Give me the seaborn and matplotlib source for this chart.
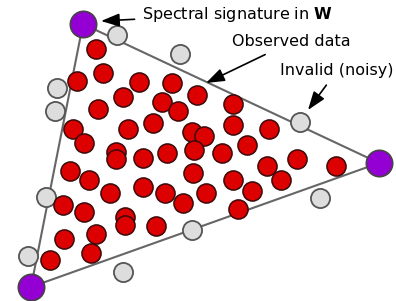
import numpy as np
import pandas as pd
import matplotlib
matplotlib.use("Agg")
import matplotlib.pyplot as plt
import seaborn as sns

# --- data (picture coordinates, y grows downwards) ---
vertex_x = [83, 379, 31]
vertex_y = [24, 163, 287]

invalid_x = [117, 180, 57, 55, 300, 320, 46, 28, 123, 192]
invalid_y = [35, 54, 88, 111, 122, 198, 197, 256, 272, 230]

observed_x = [96, 103, 77, 139, 172, 123, 197, 98, 162, 178,
              233, 73, 128, 153, 192, 204, 233, 269, 84, 116,
              116, 143, 167, 194, 222, 247, 297, 336, 267, 193,
              70, 89, 143, 110, 165, 183, 206, 233, 281, 252,
              238, 63, 84, 125, 125, 156, 64, 96, 91, 50]
observed_y = [49, 73, 81, 82, 83, 97, 95, 109, 102, 111,
              104, 129, 129, 123, 132, 136, 125, 129, 143, 152,
              159, 158, 153, 150, 153, 145, 159, 166, 166, 173,
              171, 180, 187, 193, 193, 203, 193, 180, 180, 191,
              209, 205, 212, 217, 225, 226, 239, 234, 253, 260]

labels = ["Spectral signature in $\\mathbf{W}$", "Observed data", "Invalid (noisy)"]

sns.set_style("white")
plt.rcParams['font.family'] = ['DejaVu Sans']

fig = plt.figure(figsize=(3.96, 3.01), dpi=100)
ax = fig.add_axes([0, 0, 1, 1])

# --- simplex edges ---
ax.plot(vertex_x + vertex_x[:1], vertex_y + vertex_y[:1], color="#666666", lw=1.5, zorder=1)

# --- points ---
inv = pd.DataFrame({"x": invalid_x, "y": invalid_y})
obs = pd.DataFrame({"x": observed_x, "y": observed_y})
ver = pd.DataFrame({"x": vertex_x, "y": vertex_y})

sns.scatterplot(data=inv, x="x", y="y", ax=ax, s=190, color="#dddddd",
                edgecolor="#555555", linewidth=1.3, zorder=2)
sns.scatterplot(data=obs, x="x", y="y", ax=ax, s=190, color="#dd0000",
                edgecolor="#3a0a0a", linewidth=1.1, zorder=3)
sns.scatterplot(data=ver, x="x", y="y", ax=ax, s=360, color="#9400d3",
                edgecolor="#444444", linewidth=1.2, zorder=4)

# --- annotations ---
arrow = dict(arrowstyle="-|>,head_length=0.7,head_width=0.25", color="black",
             lw=1.2, mutation_scale=16, shrinkA=3, shrinkB=0)
ax.annotate(labels[0], xy=(101, 21), xytext=(142, 14), fontsize=11.5, color="black",
            va="center", ha="left", arrowprops=arrow)
ax.annotate(labels[1], xy=(206, 83), xytext=(232, 42), fontsize=11.5, color="black",
            va="center", ha="left", arrowprops=arrow)
ax.annotate(labels[2], xy=(308, 110), xytext=(280, 71), fontsize=11.5, color="black",
            va="center", ha="left", arrowprops=arrow)

ax.set_xlim(0, 396)
ax.set_ylim(301, 0)
ax.axis("off")

fig.savefig("out.png", dpi=100)
